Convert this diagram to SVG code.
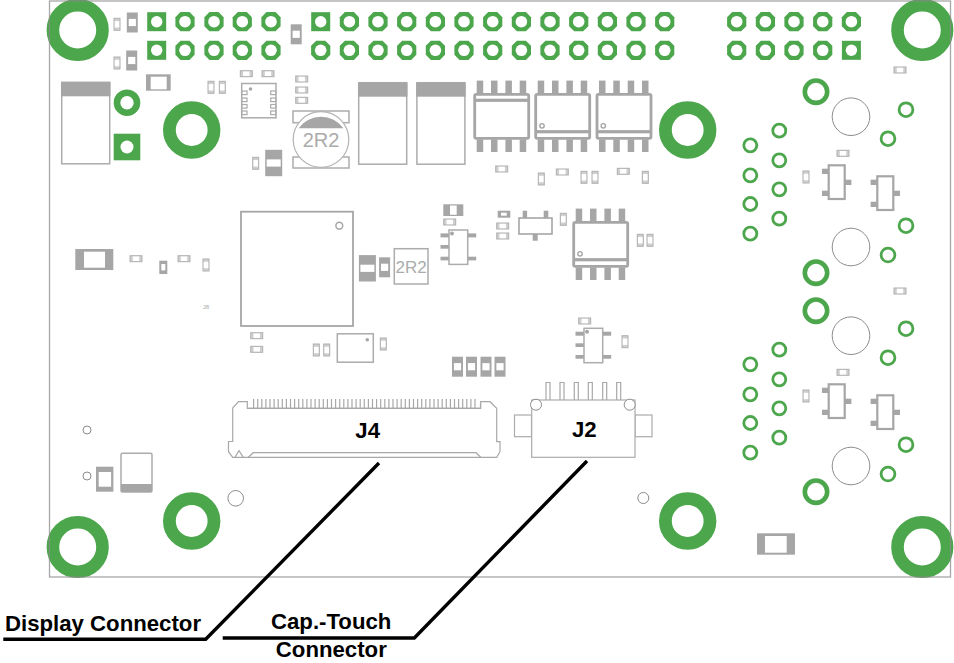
<svg xmlns="http://www.w3.org/2000/svg" width="954" height="663" viewBox="0 0 954 663">
<style>
.g{fill:#4ca64c}
.d{fill:#a6a6a6}
.w{fill:#fff}
.o{fill:#fff;stroke:#acacac;stroke-width:1.5}
.o2{fill:#fff;stroke:#a6a6a6;stroke-width:2.8}
.t{fill:none;stroke:#8c8c8c;stroke-width:1}
.f{fill:#fff;stroke:#ababab;stroke-width:1.2}
.ring{fill:#fff;stroke:#4ca64c;stroke-width:2.8}
.ringb{fill:#fff;stroke:#4ca64c;stroke-width:4.6}
.lead{fill:none;stroke:#000;stroke-width:3.4}
.lb{font-family:"Liberation Sans",Arial,sans-serif;font-weight:700;font-size:22.2px;fill:#000}
.gt{font-family:"Liberation Sans",Arial,sans-serif;fill:#ababab}
</style>
<defs>
<g id="sq"><rect x="-9.5" y="-9.5" width="19" height="19" class="g"/><circle r="5.7" class="w"/></g>
<g id="oc"><polygon points="-4.5,-9.6 4.5,-9.6 9.6,-4.5 9.6,4.5 4.5,9.6 -4.5,9.6 -9.6,4.5 -9.6,-4.5" class="g"/><circle r="5.8" class="w"/></g>
<g id="rh"><rect x="-6" y="-3" width="12" height="6" fill="#cfcfcf" stroke="#b0b0b0"/><rect x="-3.2" y="-2.3" width="6.4" height="4.6" class="w"/></g>
<g id="rv"><rect x="-3" y="-6" width="6" height="12" fill="#cfcfcf" stroke="#b0b0b0"/><rect x="-2.3" y="-3.2" width="4.6" height="6.4" class="w"/></g>
<g id="dv"><rect x="-5.5" y="-10" width="11" height="20" class="d"/><rect x="-3.6" y="-3.6" width="7.2" height="7.2" class="w"/></g>
<g id="dvb"><rect x="-8.5" y="-13.2" width="17" height="26.4" class="d"/><rect x="-7" y="-3.6" width="14" height="7.2" class="w"/></g>
<g id="diode"><rect x="0" y="0" width="48" height="81.5" class="o"/><rect x="-0.7" y="0" width="49.4" height="14" class="d"/></g>
<g id="soicpins">
<rect x="2.7" y="-12.7" width="6.5" height="13" class="d"/><rect x="17" y="-12.7" width="6.5" height="13" class="d"/><rect x="31.4" y="-12.7" width="6.5" height="13" class="d"/><rect x="45.7" y="-12.7" width="6.5" height="13" class="d"/>
<rect x="2.7" y="46" width="6.5" height="12.7" class="d"/><rect x="17" y="46" width="6.5" height="12.7" class="d"/><rect x="31.4" y="46" width="6.5" height="12.7" class="d"/><rect x="45.7" y="46" width="6.5" height="12.7" class="d"/>
<rect x=".7" y="1" width="54" height="44" rx="1.5" class="o2"/></g>
<g id="soicb"><use href="#soicpins"/><rect x="1" y="36.8" width="53" height="3.2" class="d"/><circle cx="7" cy="32.5" r="2.2" fill="#fff" stroke="#a6a6a6" stroke-width="1.4"/></g>
<g id="ic5">
<rect x="-8.5" y="3.4" width="8.5" height="4" class="d"/><rect x="-8.5" y="15" width="8.5" height="3.7" class="d"/><rect x="-8.5" y="26.7" width="8.5" height="3.7" class="d"/>
<rect x="18.7" y="3.4" width="8.5" height="4" class="d"/><rect x="18.7" y="26.7" width="8.5" height="3.7" class="d"/>
<rect width="18.7" height="34.4" class="o"/><circle cx="3" cy="3.4" r="2" class="d"/></g>
<g id="sot">
<rect x="-6.7" y="3.4" width="6.7" height="5.3" class="d"/><rect x="-6.7" y="25.4" width="6.7" height="5.3" class="d"/><rect x="16" y="14.4" width="6.7" height="5.3" class="d"/>
<rect width="16" height="33.7" class="o2" style="stroke-width:2.2"/></g>
<g id="touch">
<circle cx="816" cy="91.7" r="11.2" class="ringb"/><circle cx="816" cy="272.7" r="11.2" class="ringb"/>
<circle cx="851" cy="116.7" r="18.8" class="t" fill="#fff"/><circle cx="851" cy="247" r="18.8" class="t" fill="#fff"/>
<circle cx="906" cy="109.7" r="6.9" class="ring"/><circle cx="888" cy="138.7" r="6.9" class="ring"/><circle cx="906" cy="225.7" r="6.9" class="ring"/><circle cx="888" cy="255" r="6.9" class="ring"/>
<circle cx="779.3" cy="130.7" r="6.5" class="ring"/><circle cx="779.3" cy="160.3" r="6.5" class="ring"/><circle cx="779.3" cy="189.3" r="6.5" class="ring"/><circle cx="779.3" cy="218.7" r="6.5" class="ring"/>
<circle cx="750.3" cy="145.3" r="6.5" class="ring"/><circle cx="750.3" cy="175.3" r="6.5" class="ring"/><circle cx="750.3" cy="204" r="6.5" class="ring"/><circle cx="750.3" cy="233.7" r="6.5" class="ring"/>
<use href="#rh" x="843" y="153.3"/><use href="#rv" x="806" y="177"/>
<use href="#sot" x="828.7" y="165.3"/><use href="#sot" x="877.3" y="176.3"/>
</g>
</defs>

<g id="mounting-holes">
<circle cx="77.7" cy="30" r="24.8" fill="none" stroke="#4ca64c" stroke-width="12.6"/>
<circle cx="922.3" cy="30" r="24.8" fill="none" stroke="#4ca64c" stroke-width="12.6"/>
<circle cx="77.7" cy="547" r="24.8" fill="none" stroke="#4ca64c" stroke-width="12.6"/>
<circle cx="922.3" cy="547" r="24.8" fill="none" stroke="#4ca64c" stroke-width="12.6"/>
<circle cx="191.7" cy="130" r="22.3" fill="none" stroke="#4ca64c" stroke-width="12.8"/>
<circle cx="687.7" cy="130" r="22.3" fill="none" stroke="#4ca64c" stroke-width="12.8"/>
<circle cx="191.7" cy="521" r="22.3" fill="none" stroke="#4ca64c" stroke-width="12.8"/>
<circle cx="687.7" cy="521" r="22.3" fill="none" stroke="#4ca64c" stroke-width="12.8"/>
</g>
<rect id="board" x="49.5" y="1" width="901" height="576" fill="none" stroke="#8a8a8a" stroke-width="1.3" stroke-opacity=".75"/>

<g id="headers">
<use href="#sq" x="156.7" y="21.7"/><use href="#oc" x="185" y="21.7"/><use href="#oc" x="214" y="21.7"/><use href="#oc" x="242.3" y="21.7"/><use href="#oc" x="271" y="21.7"/>
<use href="#sq" x="156.7" y="50.3"/><use href="#oc" x="185" y="50.3"/><use href="#oc" x="214" y="50.3"/><use href="#oc" x="242.3" y="50.3"/><use href="#oc" x="271" y="50.3"/>
<use href="#sq" x="320.7" y="21.7"/><use href="#oc" x="349.4" y="21.7"/><use href="#oc" x="378" y="21.7"/><use href="#oc" x="406.7" y="21.7"/><use href="#oc" x="435.4" y="21.7"/><use href="#oc" x="464" y="21.7"/><use href="#oc" x="492.7" y="21.7"/><use href="#oc" x="521.4" y="21.7"/><use href="#oc" x="550" y="21.7"/><use href="#oc" x="578.7" y="21.7"/><use href="#oc" x="607.4" y="21.7"/><use href="#oc" x="636" y="21.7"/><use href="#oc" x="664.7" y="21.7"/>
<use href="#oc" x="320.7" y="50.3"/><use href="#oc" x="349.4" y="50.3"/><use href="#oc" x="378" y="50.3"/><use href="#oc" x="406.7" y="50.3"/><use href="#oc" x="435.4" y="50.3"/><use href="#oc" x="464" y="50.3"/><use href="#oc" x="492.7" y="50.3"/><use href="#oc" x="521.4" y="50.3"/><use href="#oc" x="550" y="50.3"/><use href="#oc" x="578.7" y="50.3"/><use href="#oc" x="607.4" y="50.3"/><use href="#oc" x="636" y="50.3"/><use href="#oc" x="664.7" y="50.3"/>
<use href="#oc" x="736.7" y="21.7"/><use href="#oc" x="765.4" y="21.7"/><use href="#oc" x="794" y="21.7"/><use href="#oc" x="822.7" y="21.7"/><use href="#oc" x="851.4" y="21.7"/>
<use href="#oc" x="736.7" y="50.3"/><use href="#oc" x="765.4" y="50.3"/><use href="#oc" x="794" y="50.3"/><use href="#oc" x="822.7" y="50.3"/><use href="#sq" x="851.4" y="50.3"/>
</g>

<g id="top-left-parts">
<use href="#rv" x="117" y="24.3"/><use href="#rv" x="117" y="63"/><use href="#dv" x="132.3" y="22.5"/><use href="#dv" x="131.7" y="60.5"/><use href="#dv" x="296.2" y="34.3"/>
<rect x="146" y="74.3" width="24.7" height="16.4" class="d"/><rect x="150.7" y="76.7" width="16" height="12.6" class="w"/>
<use href="#diode" x="61.7" y="82.3"/>
<circle cx="127" cy="102.7" r="10" fill="#fff" stroke="#4ca64c" stroke-width="6.6"/>
<rect x="113.7" y="133.7" width="26.6" height="26.6" class="g"/><circle cx="127" cy="147" r="6.5" class="w"/>
<use href="#rv" x="211" y="87.3"/><use href="#rv" x="222.3" y="87.3"/>
<use href="#rh" x="246.3" y="73.7"/><use href="#rh" x="268" y="73.7"/>
</g>

<g id="qfn">
<rect x="241.7" y="83.5" width="34.3" height="34.3" class="o"/>
<g class="f"><rect x="242" y="91" width="5" height="3.6"/><rect x="242" y="98" width="5" height="3.6"/><rect x="242" y="104.5" width="5" height="3.6"/><rect x="242" y="111" width="5" height="3.6"/><rect x="270.7" y="91" width="5" height="3.6"/><rect x="270.7" y="98" width="5" height="3.6"/><rect x="270.7" y="104.5" width="5" height="3.6"/><rect x="270.7" y="111" width="5" height="3.6"/></g>
<circle cx="250.5" cy="89" r="1.8" class="d"/>
</g>

<g id="inductor-top">
<use href="#rh" x="301.7" y="79"/><use href="#rh" x="301.7" y="90"/><use href="#rh" x="301.7" y="100.3"/>
<rect x="293" y="111" width="56" height="11.7" class="o"/><rect x="293" y="157" width="56" height="11" class="o"/>
<circle cx="321" cy="139.5" r="27.8" fill="#fff" stroke="#b4b4b4" stroke-width="1.2"/>
<path d="M298.6 128 A27.8 27.8 0 0 1 343.4 128Z" class="d" transform="translate(0 .2)"/>
<text x="321" y="147" text-anchor="middle" class="gt" font-size="20">2R2</text>
<use href="#rv" x="255.7" y="163.3"/><use href="#dvb" x="273.7" y="163"/>
</g>

<g id="power-parts">
<use href="#diode" x="358.7" y="82.7"/><use href="#diode" x="416.9" y="82.7"/>
<g transform="translate(474 93.3)"><use href="#soicpins"/><rect x="1" y="5.4" width="53" height="3.2" class="d"/></g>
<use href="#soicb" x="535" y="93.3"/><use href="#soicb" x="596.3" y="93.3"/>
<use href="#rh" x="501.7" y="169"/><use href="#rv" x="541.3" y="179"/><use href="#rh" x="562.3" y="172"/><use href="#rv" x="584" y="177.3"/><use href="#rv" x="595" y="177.3"/><use href="#rh" x="623.3" y="171.3"/><use href="#rv" x="645.3" y="177.3"/>
</g>

<g id="mid-parts">
<rect x="443.3" y="204.3" width="20" height="11.7" class="d"/><rect x="450" y="205.5" width="6.7" height="9.3" class="w"/>
<use href="#rh" x="449.7" y="222"/>
<use href="#ic5" x="449" y="230"/>
<rect x="497.7" y="210.7" width="12.6" height="7" class="d"/><rect x="501" y="212.7" width="5.7" height="3" class="w"/>
<use href="#rh" x="502.7" y="226"/><use href="#rh" x="502.7" y="236"/>
<rect x="522.7" y="210.7" width="4.4" height="8" class="d"/><rect x="543.7" y="210.7" width="4.6" height="8" class="d"/><rect x="532.7" y="233" width="5" height="7.7" class="d"/>
<rect x="519" y="218" width="33" height="16" fill="#fff" stroke="#a6a6a6" stroke-width="1.6"/>
<use href="#rv" x="563.3" y="219.3"/>
<use href="#soicb" x="573" y="221.3"/>
<use href="#rv" x="640.3" y="240.3"/><use href="#rv" x="650" y="240.3"/>
</g>

<g id="left-mid-parts">
<rect x="75.3" y="249" width="38" height="21" class="d"/><rect x="84" y="251.7" width="21" height="16" class="w"/>
<use href="#rh" x="136" y="258.7"/>
<rect x="159.3" y="260.7" width="8" height="13.3" class="d"/><rect x="161.3" y="264" width="4" height="6.4" class="w"/>
<use href="#rh" x="184" y="258.7"/><use href="#rv" x="206" y="265"/>
<text x="206" y="309" text-anchor="middle" class="gt" font-size="6">J8</text>
</g>

<g id="main-ic">
<rect x="241" y="211.7" width="112" height="114.3" fill="#fff" stroke="#a6a6a6" stroke-width="1.8"/>
<circle cx="339.3" cy="225.7" r="3.4" fill="#fff" stroke="#a6a6a6" stroke-width="1.5"/>
<use href="#dvb" x="367.4" y="268.3"/>
<use href="#dv" x="384.6" y="267.3"/>
<rect x="394.3" y="248.7" width="33.7" height="35.3" class="o"/>
<text x="411.2" y="273" text-anchor="middle" class="gt" font-size="17">2R2</text>
<use href="#rh" x="256.7" y="335.7"/><use href="#rh" x="256.7" y="349.3"/>
<use href="#rv" x="316.3" y="350"/><use href="#rv" x="326.7" y="350"/>
<rect x="337.3" y="333.8" width="36" height="28.4" class="o"/><circle cx="367.3" cy="339.7" r="1.8" class="d"/>
<use href="#rv" x="383.3" y="344"/>
<use href="#rh" x="584.7" y="321"/>
<use href="#ic5" x="584" y="328.3"/>
<use href="#rv" x="625" y="341.7"/>
<use href="#dv" x="457.5" y="366.7"/><use href="#dv" x="471.5" y="366.7"/><use href="#dv" x="486" y="366.7"/><use href="#dv" x="500" y="366.7"/>
</g>

<g id="touch-parts">
<use href="#rh" x="900" y="70"/><use href="#rh" x="900" y="291"/>
<use href="#touch"/>
<use href="#touch" y="219"/>
</g>

<g id="J4">
<path d="M240 402.5V408.4H480.5V402.5M253.6 399V408M257.7 399V408M261.8 399V408M265.9 399V408M270 399V408M274.1 399V408M278.2 399V408M282.3 399V408M286.4 399V408M290.5 399V408M294.6 399V408M298.7 399V408M302.8 399V408M306.9 399V408M311 399V408M315.1 399V408M319.2 399V408M323.3 399V408M327.4 399V408M331.5 399V408M335.6 399V408M339.7 399V408M343.8 399V408M347.9 399V408M352 399V408M356.1 399V408M360.2 399V408M364.3 399V408M368.4 399V408M372.5 399V408M376.6 399V408M380.7 399V408M384.8 399V408M388.9 399V408M393 399V408M397.1 399V408M401.2 399V408M405.3 399V408M409.4 399V408M413.5 399V408M417.6 399V408M421.7 399V408M425.8 399V408M429.9 399V408M434 399V408M438.1 399V408M442.2 399V408M446.3 399V408M450.4 399V408M454.5 399V408M458.6 399V408M462.7 399V408M466.8 399V408M470.9 399V408M475 399V408" fill="none" stroke="#a8a8a8" stroke-width="1.2"/>
<path d="M228.5 441.5H232.7V408L238.5 401.7H247.3V408.3H480.7V401.7H490L496.7 408.3V441.7H500V451.7L496.7 457.3H232.7L228.5 451.7Z" fill="#fff" stroke="#a8a8a8" stroke-width="1.2"/>
<path d="M235 457.3L239 450.7L243.3 457.3M248.3 457.3L253.3 452.7H476L480.7 457.3" fill="none" stroke="#a8a8a8" stroke-width="1.2"/>
<text x="367.7" y="438.3" text-anchor="middle" class="lb">J4</text>
</g>

<g id="J2">
<path d="M546 400V382.5H550V400M560 400V382.5H564V400M574.3 400V382.5H578.3V400M588.3 400V382.5H592.3V400M602.7 400V382.5H606.7V400M616.7 400V382.5H620.7V400" fill="none" stroke="#a8a8a8" stroke-width="1.2"/>
<rect x="514.5" y="415" width="17" height="21.7" class="f"/><rect x="635" y="415" width="17" height="21.7" class="f"/>
<rect x="531.7" y="400" width="103.3" height="57.3" class="f"/>
<circle cx="536" cy="404.7" r="5.5" fill="#fff" stroke="#8c8c8c"/><circle cx="629.7" cy="404.7" r="5.5" fill="#fff" stroke="#8c8c8c"/>
<text x="584.3" y="436.7" text-anchor="middle" class="lb">J2</text>
</g>

<g id="bottom-parts">
<circle cx="87" cy="430" r="4" class="t" fill="#fff"/><circle cx="87" cy="476" r="4" class="t" fill="#fff"/>
<rect x="96" y="466.7" width="17.4" height="25" class="d"/><rect x="98.7" y="472" width="12.4" height="14.7" class="w"/>
<rect x="121" y="453.2" width="31" height="38.8" rx="1.5" class="o"/><rect x="121" y="484" width="31" height="8" class="d"/>
<circle cx="235.7" cy="498.3" r="7.8" class="t" fill="#fff"/><circle cx="643.3" cy="498" r="5.5" class="t" fill="#fff"/>
<rect x="757" y="533.3" width="38" height="21.4" class="d"/><rect x="765" y="536" width="21.7" height="16.7" class="w"/>
</g>

<g id="connectors">
<path d="M3.3 639.3H205.7L379 463" class="lead"/>
<path d="M222.7 638H414.3L587 461" class="lead"/>
</g>
<g id="labels">
<text x="5" y="630.7" class="lb">Display Connector</text>
<text x="331.2" y="629.3" text-anchor="middle" class="lb">Cap.-Touch</text>
<text x="331.3" y="657" text-anchor="middle" class="lb">Connector</text>
</g>
</svg>
